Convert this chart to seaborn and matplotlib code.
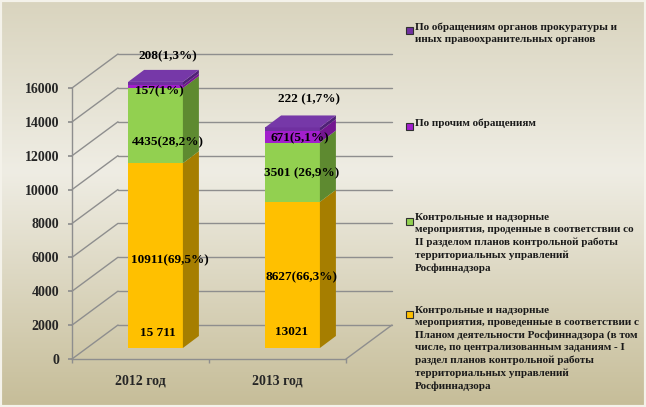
import numpy as np
import pandas as pd
import matplotlib
matplotlib.use("Agg")
import matplotlib.pyplot as plt
import matplotlib.transforms as mtransforms
from matplotlib.patches import Polygon, Rectangle
from matplotlib.colors import LinearSegmentedColormap
import seaborn as sns

# --- data ---
years = ["2012 год", "2013 год"]
plan = [10911, 8627]          # yellow, plan of Rosfinnadzor
section2 = [4435, 3501]       # green, section II plans
other = [157, 671]            # magenta, other requests
prosecutor = [208, 222]       # purple, prosecutor requests
total_labels = ["15 711", "13021"]
plan_labels = ["10911(69,5%)", "8627(66,3%)"]
section2_labels = ["4435(28,2%)", "3501 (26,9%)"]
other_labels = ["157(1%)", "671(5,1%)"]
prosecutor_labels = ["208(1,3%)", "222 (1,7%)"]
yticks = list(range(0, 16001, 2000))

legend_texts = [
    "По обращениям органов прокуратуры и\nиных правоохранительных органов",
    "По прочим обращениям",
    "Контрольные и надзорные\nмероприятия, проденные в соответствии со\n"
    "II разделом планов контрольной работы\nтерриториальных управлений\nРосфиннадзора",
    "Контрольные и надзорные\nмероприятия, проведенные в соответствии с\n"
    "Планом деятельности Росфиннадзора (в том\nчисле, по централизованным заданиям - I\n"
    "раздел планов контрольной работы\nтерриториальных управлений\nРосфиннадзора",
]

# colours: front, side, top for every layer (bottom -> top)
front = ["#FFC000", "#92D050", "#A21FCC", "#7030A0"]
side = ["#A67E00", "#5E8A30", "#741690", "#4F2177"]
top_c = "#7638A8"
grid_c = "#8E8E8E"

sns.set_theme(style="white")
plt.rcParams["font.family"] = ["Liberation Serif", "DejaVu Serif"]

W, H = 646, 407
fig = plt.figure(figsize=(W / 100, H / 100), dpi=100)

# background gradient
bg = fig.add_axes([0, 0, 1, 1], zorder=-10)
cmap = LinearSegmentedColormap.from_list(
    "bg", [(0, "#D9D4BE"), (0.42, "#EFEDE4"), (1, "#C6BD98")])
bg.imshow(np.linspace(0, 1, 256).reshape(-1, 1), aspect="auto", cmap=cmap,
          extent=[0, 1, 0, 1], origin="upper")
bg.axis("off")

ax = fig.add_axes([72 / W, (H - 359) / H, 274 / W, 271 / H])
ax.set_facecolor("none")

layers = [plan, section2, other, prosecutor]
cum = np.cumsum(np.array(layers), axis=0)

# bars stand a bit deeper than the front edge of the floor
bar_tr = mtransforms.offset_copy(ax.transData, fig=fig, x=15, y=11, units="dots")

rects = {}
for k in range(3, -1, -1):
    df = pd.DataFrame({"year": years, "value": cum[k]})
    n0 = len(ax.patches)
    sns.barplot(data=df, x="year", y="value", color=front[k], saturation=1,
                width=0.4, errorbar=None, ax=ax, zorder=2)
    rects[k] = ax.patches[n0:]
    for p in rects[k]:
        p.set_transform(bar_tr)
        p.set_linewidth(0)
        p.set_clip_on(False)

ax.set_xlim(-0.5, 1.5)
ax.set_ylim(0, 16000)

# depth of the bars in data units
ddx = 16 / (274 / 2.0)
ddy = 12 / (271 / 16000)

for k in range(4):
    for i, p in enumerate(rects[k]):
        x0 = p.get_x()
        x1 = x0 + p.get_width()
        y0 = cum[k][i] - layers[k][i]
        y1 = cum[k][i]
        ax.add_patch(Polygon([(x1, y0), (x1 + ddx, y0 + ddy), (x1 + ddx, y1 + ddy), (x1, y1)],
                             closed=True, facecolor=side[k], lw=0, transform=bar_tr,
                             zorder=2, clip_on=False))
        if k == 3:
            ax.add_patch(Polygon([(x0, y1), (x1, y1), (x1 + ddx, y1 + ddy), (x0 + ddx, y1 + ddy)],
                                 closed=True, facecolor=top_c, lw=0, transform=bar_tr,
                                 zorder=2, clip_on=False))

# back wall grid and diagonals
back = mtransforms.offset_copy(ax.get_yaxis_transform(), fig=fig, x=46, y=34, units="dots")
for v in yticks:
    ax.plot([0, 1], [v, v], transform=back, color=grid_c, lw=1, clip_on=False, zorder=0.5)
    ax.annotate("", xy=(0, v), xycoords=ax.get_yaxis_transform(), xytext=(46, 34),
                textcoords="offset pixels", zorder=0.5,
                arrowprops=dict(arrowstyle="-", color=grid_c, lw=1, shrinkA=0, shrinkB=0))
ax.annotate("", xy=(1, 0), xycoords=ax.get_yaxis_transform(), xytext=(46, 34),
            textcoords="offset pixels", zorder=0.5,
            arrowprops=dict(arrowstyle="-", color=grid_c, lw=1, shrinkA=0, shrinkB=0))

# value labels (pixel nudges per layer / year)
lab_dx = [[14, 9], [12, 9], [4, 7], [12, 16]]
lab_dy = [[-5, -2], [-17, -1], [-5, -1], [26, 28]]
all_labels = [plan_labels, section2_labels, other_labels, prosecutor_labels]
for k in range(4):
    for i in range(len(years)):
        if k == 3:
            y = cum[k][i]
        else:
            y = cum[k][i] - layers[k][i] / 2
        ax.annotate(all_labels[k][i], xy=(i, y), xycoords=bar_tr,
                    xytext=(lab_dx[k][i], lab_dy[k][i]), textcoords="offset pixels",
                    ha="center", va="center", fontsize=9.5, fontweight="bold",
                    color="black", zorder=5, annotation_clip=False)
for i in range(len(years)):
    ax.annotate(total_labels[i], xy=(i, 0), xycoords=bar_tr, xytext=([2, -1][i], [15, 16][i]),
                textcoords="offset pixels", ha="center", va="center", fontsize=9.5,
                fontweight="bold", color="black", zorder=5)

# axes styling
for s in ["top", "right"]:
    ax.spines[s].set_visible(False)
for s in ["left", "bottom"]:
    ax.spines[s].set_color(grid_c)
    ax.spines[s].set_linewidth(1)
ax.set_yticks(yticks)
ax.set_yticklabels([str(v) for v in yticks], fontsize=10, fontweight="bold")
ax.set_xticks(range(len(years)))
ax.set_xticklabels(years, fontsize=10, fontweight="bold")
ax.set_xticks([-0.5, 0.5, 1.5], minor=True)
ax.tick_params(axis="y", direction="out", length=3, color=grid_c, pad=6, left=True)
ax.tick_params(axis="x", which="major", length=0, pad=11)
ax.tick_params(axis="x", which="minor", direction="out", length=3, color=grid_c, bottom=True)
ax.set_xlabel("")
ax.set_ylabel("")
ax.grid(False)

# legend on the right
leg_y = [30, 126, 221, 314]
for k, (txt, y) in enumerate(zip(legend_texts, leg_y)):
    fig.add_artist(Rectangle((406 / W, 1 - (y + 3.5) / H), 7 / W, 7 / H,
                             transform=fig.transFigure, facecolor=front[3 - k],
                             edgecolor="#303030", lw=0.8))
    fig.text(415 / W, 1 - (y - 8) / H, txt, ha="left", va="top", fontsize=8,
             fontweight="bold", linespacing=1.45, color="#1A1A1A")

fig.add_artist(Rectangle((0, 0), 1, 1, transform=fig.transFigure, fill=False,
                         edgecolor="#F4F2EA", lw=3))

fig.savefig("out.png", dpi=100)
